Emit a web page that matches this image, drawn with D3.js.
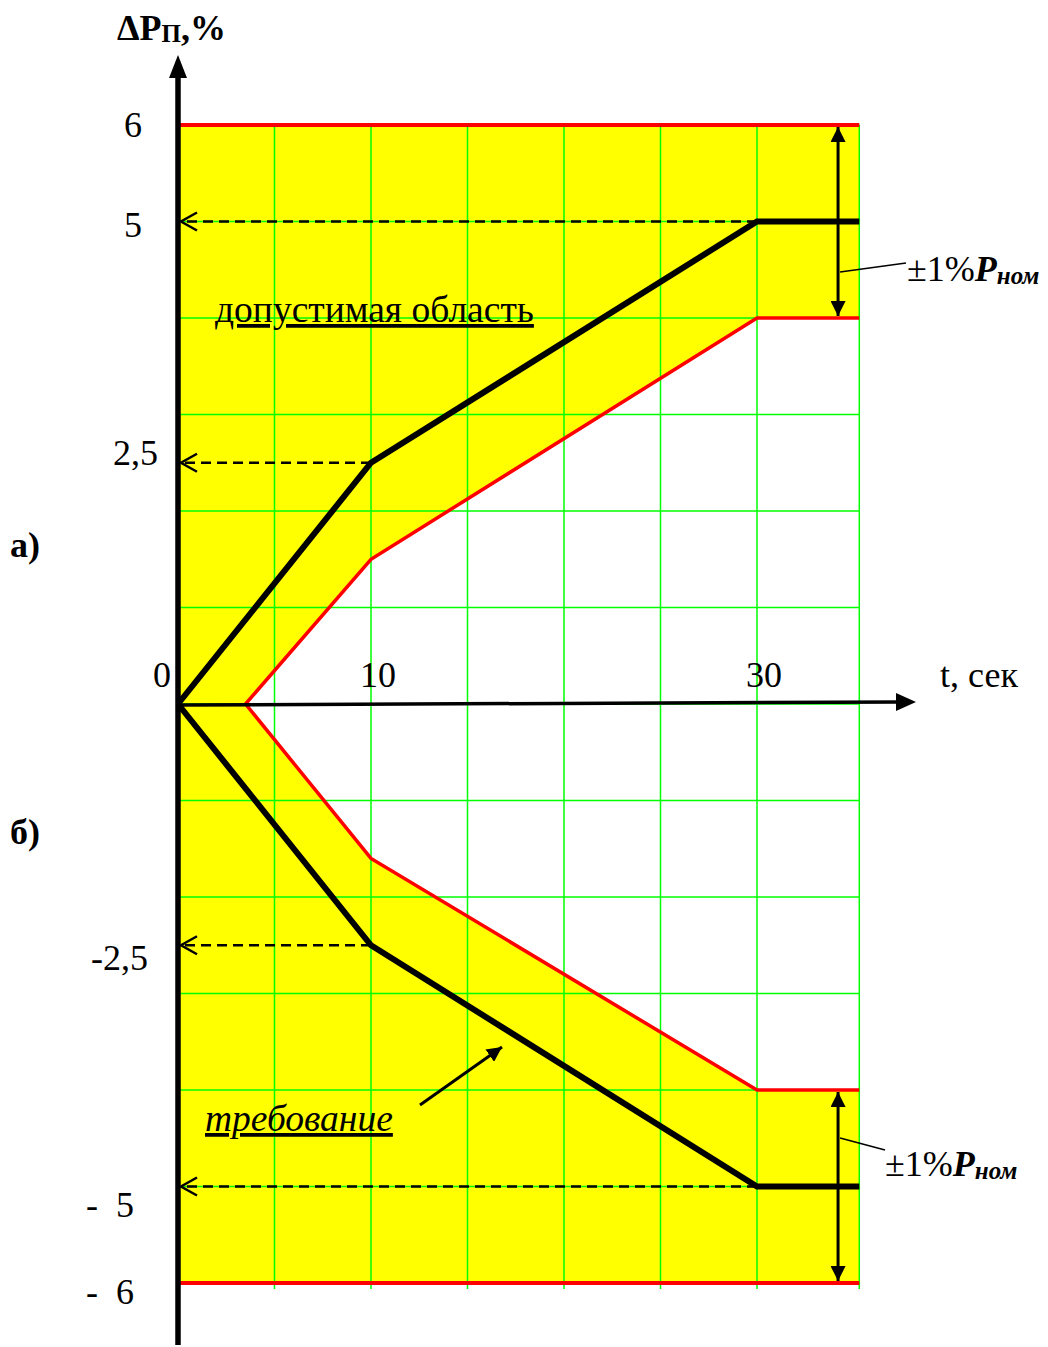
<!DOCTYPE html>
<html>
<head>
<meta charset="utf-8">
<script src="https://cdn.jsdelivr.net/npm/d3@7"></script>
<style>
  body { margin: 0; background: #fff; }
  svg { display: block; font-family: "Liberation Serif", "Times New Roman", serif; }
</style>
</head>
<body>
<svg id="chart" width="1048" height="1347"></svg>
<script>
// time axis (sec) and power deviation (%)
const tEnd = 35.3;
const gridT = [5, 10, 15, 20, 25, 30, tEnd];
const gridP = [-6, -5, -4, -3, -2, -1, 0, 1, 2, 3, 4, 5, 6];
const xTickValues = [10, 30];
const xTickLabels = ['10', '30'];
const yTickValues = [6, 5, 2.5, -2.5, -5, -6];
const yTickLabels = ['6', '5', '2,5', '-2,5', '-  5', '-  6'];

// requirement curves (black)
const reqUpper = [{ t: 0, p: 0 }, { t: 10, p: 2.5 }, { t: 30, p: 5 }, { t: tEnd, p: 5 }];
const reqLower = [{ t: 0, p: 0 }, { t: 10, p: -2.5 }, { t: 30, p: -5 }, { t: tEnd, p: -5 }];
// inner limits of admissible region (red)
const limUpper = [{ t: 3.5, p: 0 }, { t: 10, p: 1.5 }, { t: 30, p: 4 }, { t: tEnd, p: 4 }];
const limLower = [{ t: 3.5, p: 0 }, { t: 10, p: -1.6 }, { t: 30, p: -4 }, { t: tEnd, p: -4 }];
// outer limits
const outerLimits = [6, -6];
// dashed arrows to the axis
const guides = [{ t: 30, p: 5 }, { t: 10, p: 2.5 }, { t: 10, p: -2.5 }, { t: 30, p: -5 }];
// ±1% bands
const bands = [{ from: 6, to: 4 }, { from: -4, to: -6 }];

const svg = d3.select('#chart');
const x = d3.scaleLinear().domain([0, 30]).range([178, 757]);
const y = d3.scaleLinear().domain([-6, 6]).range([1283, 125]);

const defs = svg.append('defs');
defs.append('marker')
  .attr('id', 'solid')
  .attr('viewBox', '0 0 10 10')
  .attr('refX', 10).attr('refY', 5)
  .attr('markerWidth', 5).attr('markerHeight', 5)
  .attr('markerUnits', 'strokeWidth')
  .attr('orient', 'auto-start-reverse')
  .append('path').attr('d', 'M0,0 L10,5 L0,10 Z').attr('fill', '#000');

// yellow region then white gap between inner limits
svg.append('rect')
  .attr('x', x(0)).attr('y', y(6))
  .attr('width', x(tEnd) - x(0)).attr('height', y(-6) - y(6))
  .attr('fill', '#ffff00');

const gap = limUpper.concat(limLower.slice().reverse());
svg.append('path')
  .datum(gap)
  .attr('fill', '#fff')
  .attr('d', d3.line().x(d => x(d.t)).y(d => y(d.p)));

// green grid
svg.append('g').selectAll('line')
  .data(gridT).join('line')
  .attr('x1', d => x(d)).attr('x2', d => x(d))
  .attr('y1', y(6)).attr('y2', y(-6) + 6)
  .attr('stroke', '#00ff00').attr('stroke-width', 1.5);
svg.append('g').selectAll('line')
  .data(gridP).join('line')
  .attr('x1', x(0)).attr('x2', x(tEnd))
  .attr('y1', d => y(d)).attr('y2', d => y(d))
  .attr('stroke', '#00ff00').attr('stroke-width', 1.5);

const line = d3.line().x(d => x(d.t)).y(d => y(d.p));

// outer red limits
svg.append('g').selectAll('line')
  .data(outerLimits).join('line')
  .attr('x1', x(0)).attr('x2', x(tEnd))
  .attr('y1', d => y(d)).attr('y2', d => y(d))
  .attr('stroke', '#ff0000').attr('stroke-width', 4);

[limUpper, limLower].forEach(seg => {
  svg.append('path').datum(seg)
    .attr('fill', 'none').attr('stroke', '#ff0000').attr('stroke-width', 3.5)
    .attr('d', line);
});

// dashed guides with open arrowheads
guides.forEach(g => {
  const yy = y(g.p);
  svg.append('line')
    .attr('x1', x(g.t)).attr('x2', x(0) + 5)
    .attr('y1', yy).attr('y2', yy)
    .attr('stroke', '#000').attr('stroke-width', 2.5)
    .attr('stroke-dasharray', '10,6');
  svg.append('path')
    .attr('d', `M${x(0) + 19},${yy - 9} L${x(0) + 3},${yy} L${x(0) + 19},${yy + 9}`)
    .attr('fill', 'none').attr('stroke', '#000').attr('stroke-width', 2.5);
});

// requirement curves
[reqUpper, reqLower].forEach(seg => {
  svg.append('path').datum(seg)
    .attr('fill', 'none').attr('stroke', '#000').attr('stroke-width', 6)
    .attr('stroke-linejoin', 'miter')
    .attr('d', line);
});

// ±1% double arrows
const bandX = x(34.2);
bands.forEach(b => {
  svg.append('line')
    .attr('x1', bandX).attr('x2', bandX)
    .attr('y1', y(b.from) + 2).attr('y2', y(b.to) - 2)
    .attr('stroke', '#000').attr('stroke-width', 3)
    .attr('marker-start', 'url(#solid)')
    .attr('marker-end', 'url(#solid)');
});

// axes
svg.append('line')
  .attr('x1', x(0)).attr('x2', 900)
  .attr('y1', y(0) + 1).attr('y2', y(0) - 2)
  .attr('stroke', '#000').attr('stroke-width', 3.5);
svg.append('path')
  .attr('d', `M${916},${y(0) - 2} L${896},${y(0) - 11} L${896},${y(0) + 7} Z`)
  .attr('fill', '#000');
svg.append('line')
  .attr('x1', x(0)).attr('x2', x(0))
  .attr('y1', 1345).attr('y2', 72)
  .attr('stroke', '#000').attr('stroke-width', 5.5);
svg.append('path')
  .attr('d', `M${x(0)},55 L${x(0) - 9},78 L${x(0) + 9},78 Z`)
  .attr('fill', '#000');

// tick labels (offsets follow the hand-placed originals)
const tickFont = 36;
const yLabelEnd = [142, 142, 158, 148, 134, 134];
const yLabelDy = [12, 15, 2, 25, 30, 21];
svg.append('g').selectAll('text')
  .data(yTickValues).join('text')
  .attr('x', (d, i) => yLabelEnd[i])
  .attr('y', (d, i) => y(d) + yLabelDy[i])
  .attr('text-anchor', 'end')
  .attr('font-size', tickFont)
  .text((d, i) => yTickLabels[i])
  .style('white-space', 'pre');

svg.append('text')
  .attr('x', 171).attr('y', y(0) - 17)
  .attr('text-anchor', 'end').attr('font-size', tickFont).text('0');
svg.append('g').selectAll('text')
  .data(xTickValues).join('text')
  .attr('x', d => x(d) + 7)
  .attr('y', y(0) - 17)
  .attr('text-anchor', 'middle')
  .attr('font-size', tickFont)
  .text((d, i) => xTickLabels[i]);
svg.append('text')
  .attr('x', 940).attr('y', y(0) - 17)
  .attr('font-size', tickFont).text('t, сек');

// axis title
const title = svg.append('text')
  .attr('x', 117).attr('y', 40)
  .attr('font-size', 36).attr('font-weight', 'bold');
title.append('tspan').text('ΔP');
title.append('tspan').attr('font-size', 25).attr('dy', 2).text('П');
title.append('tspan').attr('dy', -2).text(',%');

// part labels
svg.append('text').attr('x', 10).attr('y', 557)
  .attr('font-size', 36).attr('font-weight', 'bold').text('а)');
svg.append('text').attr('x', 10).attr('y', 844)
  .attr('font-size', 36).attr('font-weight', 'bold').text('б)');

// region labels
svg.append('text').attr('x', 215).attr('y', 322)
  .attr('font-size', 37.5).attr('text-decoration', 'underline')
  .text('допустимая область');
svg.append('text').attr('x', 205).attr('y', 1131)
  .attr('font-size', 37.5).attr('font-style', 'italic').attr('text-decoration', 'underline')
  .text('требование');
svg.append('line')
  .attr('x1', 420).attr('y1', 1105).attr('x2', 502).attr('y2', 1047)
  .attr('stroke', '#000').attr('stroke-width', 3)
  .attr('marker-end', 'url(#solid)');

// ±1% labels with leaders
const bandLabels = [
  { lx1: bandX + 2, ly1: 272, lx2: 906, ly2: 263, tx: 907, ty: 281 },
  { lx1: bandX + 2, ly1: 1138, lx2: 885, ly2: 1150, tx: 885, ty: 1176 }
];
bandLabels.forEach(l => {
  svg.append('line')
    .attr('x1', l.lx1).attr('y1', l.ly1).attr('x2', l.lx2).attr('y2', l.ly2)
    .attr('stroke', '#000').attr('stroke-width', 1.5);
  const t = svg.append('text').attr('x', l.tx).attr('y', l.ty).attr('font-size', 36);
  t.append('tspan').text('±1%');
  t.append('tspan').attr('font-weight', 'bold').attr('font-style', 'italic').text('P');
  t.append('tspan').attr('font-weight', 'bold').attr('font-style', 'italic')
    .attr('font-size', 25).attr('dy', 3).text('ном');
});
</script>
</body>
</html>
